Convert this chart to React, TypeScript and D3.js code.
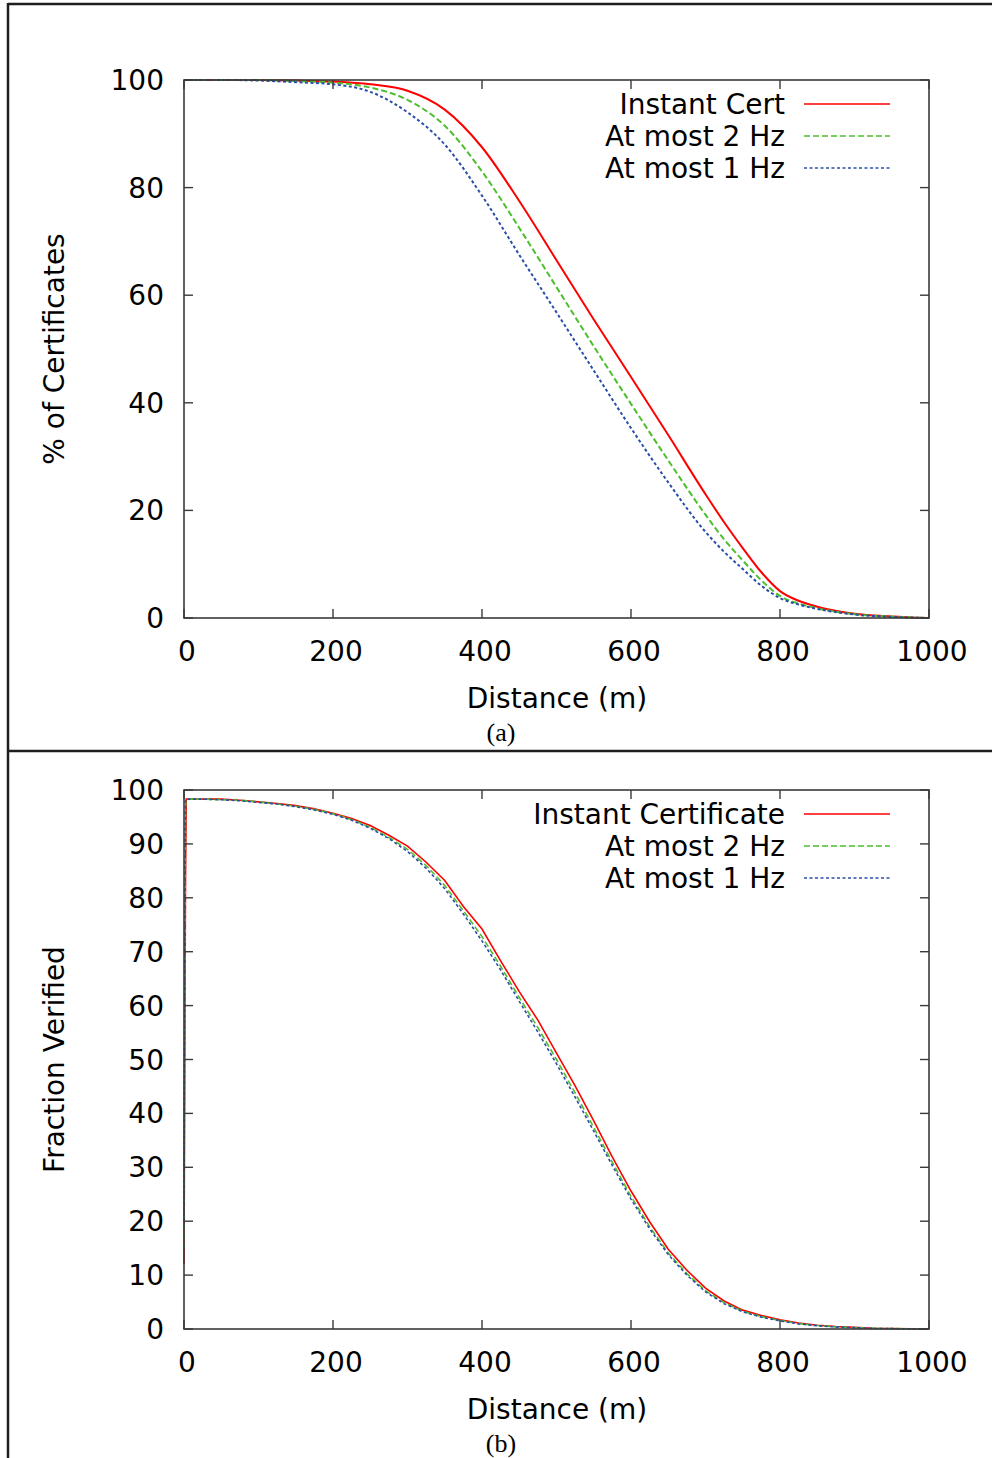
import React from 'react';
import * as d3 from 'd3';

// ---- data ----
const seriesNames = ['Instant Cert', 'At most 2 Hz', 'At most 1 Hz'];
const seriesNamesB = ['Instant Certificate', 'At most 2 Hz', 'At most 1 Hz'];

// (a) % of certificates vs distance
const distA = [0, 50, 100, 150, 200, 250, 300, 350, 400, 450, 500, 550, 600, 650, 700, 725, 750, 775, 800, 825, 850, 900, 950, 1000];
const instantA = [100, 100, 100, 99.9, 99.7, 99.2, 98, 94.5, 87.5, 77.5, 66.5, 55.5, 44.8, 34, 23, 17.8, 13, 8.5, 5, 3.2, 2.1, 0.8, 0.3, 0];
const twoHzA = [100, 100, 100, 99.8, 99.5, 98.6, 96.3, 91.5, 83, 72.5, 61.5, 50.5, 39.8, 29.3, 19.2, 14.6, 10.7, 7, 4.1, 2.7, 1.8, 0.7, 0.25, 0];
const oneHzA = [100, 100, 99.9, 99.6, 99.2, 97.8, 94, 88, 78.5, 67.5, 56.8, 46, 35.3, 25.2, 16, 12.3, 9.1, 6, 3.7, 2.5, 1.7, 0.65, 0.2, 0];

// (b) fraction verified vs distance
const distB = [0, 1, 2, 3, 25, 50, 75, 100, 125, 150, 175, 200, 225, 250, 275, 300, 325, 350, 375, 400, 425, 450, 475, 500, 525, 550, 575, 600, 625, 650, 675, 700, 725, 750, 775, 800, 825, 850, 875, 900, 925, 950, 975, 1000];
const instantB = [12, 48, 83, 98.3, 98.3, 98.3, 98.1, 97.8, 97.5, 97.1, 96.5, 95.7, 94.7, 93.4, 91.6, 89.6, 86.6, 83.2, 78.4, 74.2, 68.3, 62.6, 57.3, 51.2, 45.1, 38.6, 31.9, 25.6, 19.9, 14.8, 10.9, 7.6, 5.2, 3.5, 2.5, 1.7, 1.1, 0.7, 0.45, 0.3, 0.15, 0.1, 0.05, 0];
const twoHzB = [15, 60, 97, 98.3, 98.3, 98.2, 98.1, 97.8, 97.4, 97.0, 96.4, 95.6, 94.5, 93.1, 91.2, 89.0, 86.0, 82.3, 77.6, 72.8, 67.3, 61.5, 55.9, 50.0, 43.8, 37.4, 30.9, 24.6, 19.0, 14.1, 10.3, 7.1, 4.9, 3.3, 2.3, 1.6, 1.0, 0.65, 0.4, 0.25, 0.12, 0.08, 0.04, 0];
const oneHzB = [20, 70, 98, 98.3, 98.3, 98.2, 98.0, 97.7, 97.4, 96.9, 96.3, 95.5, 94.4, 92.9, 91.0, 88.6, 85.5, 81.7, 77.0, 72.0, 66.6, 60.8, 55.1, 49.2, 43.0, 36.7, 30.3, 24.1, 18.6, 13.8, 10.0, 6.9, 4.7, 3.2, 2.2, 1.5, 0.95, 0.6, 0.38, 0.23, 0.11, 0.07, 0.03, 0];

const xTicks = [0, 200, 400, 600, 800, 1000];
const yTicksA = [0, 20, 40, 60, 80, 100];
const yTicksB = [0, 10, 20, 30, 40, 50, 60, 70, 80, 90, 100];

const colors = ['#ff0000', '#4dbf2e', '#2a4ea8'];
const dashes = [null, '6,3', '3,2.5'];

const FONT = '"DejaVu Sans", Verdana, sans-serif';

type PanelProps = {
  top: number;
  bottom: number;
  dist: number[];
  series: number[][];
  names: string[];
  yTicks: number[];
  yLabel: string;
  caption: string;
  smooth: boolean;
  lineW: number;
};

const Panel = ({ top, bottom, dist, series, names, yTicks, yLabel, caption, smooth, lineW }: PanelProps) => {
  const left = 184;
  const right = 929;
  const x = d3.scaleLinear().domain([0, 1000]).range([left, right]);
  const y = d3.scaleLinear().domain([0, 100]).range([bottom, top]);
  const line = d3.line<number>()
    .x((_, i) => x(dist[i]))
    .y(d => y(d))
    .curve(smooth ? d3.curveMonotoneX : d3.curveLinear);
  const tick = 9;

  return (
    <g>
      {/* series */}
      {series.map((s, i) => (
        <path key={i} d={line(s) || ''} fill="none" stroke={colors[i]} strokeWidth={lineW}
          strokeDasharray={dashes[i] || undefined} />
      ))}
      {/* frame */}
      <rect x={left} y={top} width={right - left} height={bottom - top} fill="none" stroke="#3a3a3a" strokeWidth={1.6} />
      {xTicks.map(t => (
        <g key={'x' + t}>
          <line x1={x(t)} x2={x(t)} y1={bottom} y2={bottom - tick} stroke="#3a3a3a" strokeWidth={1.4} />
          <line x1={x(t)} x2={x(t)} y1={top} y2={top + tick} stroke="#3a3a3a" strokeWidth={1.4} />
          <text x={x(t) + 3} y={bottom + 33} dy="0.36em" textAnchor="middle" fontSize={28} fontFamily={FONT}>{t}</text>
        </g>
      ))}
      {yTicks.map(t => (
        <g key={'y' + t}>
          <line x1={left} x2={left + tick} y1={y(t)} y2={y(t)} stroke="#3a3a3a" strokeWidth={1.4} />
          <line x1={right} x2={right - tick} y1={y(t)} y2={y(t)} stroke="#3a3a3a" strokeWidth={1.4} />
          <text x={164} y={y(t)} dy="0.36em" textAnchor="end" fontSize={28} fontFamily={FONT}>{t}</text>
        </g>
      ))}
      {/* legend */}
      {names.map((n, i) => (
        <g key={n}>
          <text x={785} y={top + 24 + i * 32} dy="0.36em" textAnchor="end" fontSize={28} fontFamily={FONT}>{n}</text>
          <line x1={804} x2={890} y1={top + 24 + i * 32} y2={top + 24 + i * 32} stroke={colors[i]}
            strokeWidth={1.6} strokeDasharray={dashes[i] || undefined} />
        </g>
      ))}
      {/* axis labels */}
      <text x={557} y={bottom + 80} dy="0.36em" textAnchor="middle" fontSize={28} fontFamily={FONT}>Distance (m)</text>
      <text transform={`translate(54,${(top + bottom) / 2}) rotate(-90)`} dy="0.36em" textAnchor="middle"
        fontSize={28} fontFamily={FONT}>{yLabel}</text>
      <text x={501} y={bottom + 114} dy="0.36em" textAnchor="middle" fontSize={26}
        fontFamily='"Liberation Serif", "Times New Roman", serif'>{caption}</text>
    </g>
  );
};

const App = () => {
  return (
    <div style={{ position: 'absolute', left: 0, top: 0 }}>
      <svg width={992} height={1458} style={{ display: 'block', background: '#fff' }}>
        <line x1={8} x2={992} y1={4} y2={4} stroke="#1e1e1e" strokeWidth={2.5} />
        <line x1={8} x2={8} y1={3} y2={1458} stroke="#1e1e1e" strokeWidth={2.5} />
        <line x1={8} x2={992} y1={751} y2={751} stroke="#1e1e1e" strokeWidth={2.5} />
        <Panel top={80} bottom={618} dist={distA} series={[instantA, twoHzA, oneHzA]} names={seriesNames}
          yTicks={yTicksA} yLabel="% of Certificates" caption="(a)" smooth={true} lineW={2} />
        <Panel top={790} bottom={1329} dist={distB} series={[instantB, twoHzB, oneHzB]} names={seriesNamesB}
          yTicks={yTicksB} yLabel="Fraction Verified" caption="(b)" smooth={false} lineW={1.6} />
      </svg>
    </div>
  );
};

export default App;
